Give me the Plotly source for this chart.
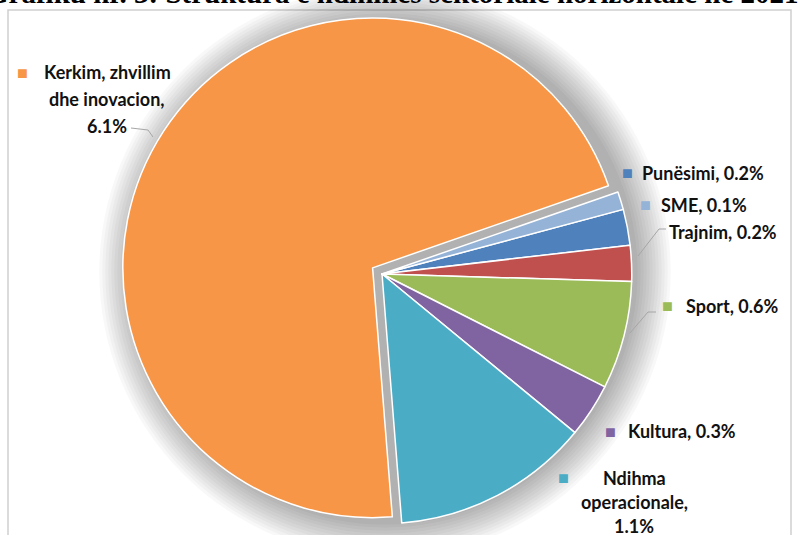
import plotly.graph_objects as go

# ---- data ----
categories = ["Punësimi", "Trajnim", "Sport", "Kultura", "Ndihma operacionale",
              "Kerkim, zhvillim dhe inovacion", "SME"]
values = [0.2, 0.2, 0.6, 0.3, 1.1, 6.1, 0.1]
colors = ["#4F81BD", "#C0504D", "#9BBB59", "#8064A2", "#4BACC6", "#F79646", "#95B3D7"]
title_text = "Grafiku nr. 3: Struktura e ndihmës sektoriale horizontale në 2021"

W, H = 799, 535
cx, cy = 382, 274          # pie centre in pixels
half = 261                 # half domain size in pixels
pull_main = 0.045
pulls = [pull_main if c.startswith("Kerkim") else 0 for c in categories]

def px(x):
    return x / W

def py(y):
    return 1 - y / H

fig = go.Figure()

fig.add_trace(go.Pie(
    labels=categories,
    values=values,
    sort=False,
    direction="clockwise",
    rotation=75,
    pull=pulls,
    marker=dict(colors=colors, line=dict(color="white", width=1.5)),
    textinfo="none",
    hoverinfo="label+value",
    showlegend=False,
    domain=dict(x=[px(cx - half), px(cx + half)], y=[0, py(cy - half)]),
))

shapes = []
# frame
shapes.append(dict(type="rect", xref="paper", yref="paper",
                   x0=px(8), x1=px(791), y0=-0.05, y1=py(10),
                   line=dict(color="#CFCFCF", width=1.5), fillcolor="rgba(0,0,0,0)",
                   layer="below"))
# soft halo behind the pie
r_pie = half / (1 + pull_main)
for k in range(12):
    rr = r_pie + 3 + 3 * k
    shapes.append(dict(type="circle", xref="paper", yref="paper",
                       x0=px(cx - rr + 3), x1=px(cx + rr + 3),
                       y0=py(cy + rr - 2), y1=py(cy - rr - 2),
                       line=dict(width=0), fillcolor="rgba(0,0,0,0.028)",
                       layer="below"))
# leader lines
leaders = [
    [(131, 128), (148, 130), (153, 137)],
    [(666, 229), (659, 229), (638, 256)],
    [(656, 312), (648, 312), (630, 333)],
]
for pts in leaders:
    for (x0, y0), (x1, y1) in zip(pts[:-1], pts[1:]):
        shapes.append(dict(type="line", xref="paper", yref="paper",
                           x0=px(x0), y0=py(y0), x1=px(x1), y1=py(y1),
                           line=dict(color="#A6A6A6", width=1)))

# label layout (positions only)
label_lines = {
    "Kerkim, zhvillim dhe inovacion": ["Kerkim, zhvillim", "dhe inovacion,"],
    "Ndihma operacionale": ["Ndihma", "operacionale,"],
}
label_pos = {
    "Punësimi": dict(marker=(627, 172), text=(640, 173), anchor="left", gap=27),
    "SME": dict(marker=(645, 204), text=(659, 205), anchor="left", gap=27),
    "Trajnim": dict(marker=None, text=(667, 232), anchor="left", gap=27),
    "Sport": dict(marker=(667, 305), text=(684, 306), anchor="left", gap=27),
    "Kultura": dict(marker=(610, 431), text=(626, 431), anchor="left", gap=27),
    "Kerkim, zhvillim dhe inovacion": dict(marker=(22, 72), text=(107, 72), anchor="center", gap=27),
    "Ndihma operacionale": dict(marker=(563, 477), text=(634, 478), anchor="center", gap=24),
}
font = dict(family="Lato", size=18, color="#111111", weight="bold")

annotations = []
for cat, val, col in zip(categories, values, colors):
    pos = label_pos[cat]
    if pos["marker"] is not None:
        mx, my = pos["marker"]
        annotations.append(dict(x=px(mx), y=py(my), xref="paper", yref="paper",
                                text="■", showarrow=False, xanchor="center", yanchor="middle",
                                font=dict(size=18, color=col)))
    tx, ty = pos["text"]
    if cat in label_lines:
        lines = label_lines[cat] + [f"{val}%"]
    else:
        lines = [f"{cat}, {val}%"]
    for i, ln in enumerate(lines):
        annotations.append(dict(x=px(tx), y=py(ty + i * pos["gap"]), xref="paper", yref="paper",
                                text=ln, showarrow=False, xanchor=pos["anchor"], yanchor="middle",
                                font=font))

# cut-off title at top
annotations.append(dict(x=1.0, y=1.0, xref="paper", yref="paper", text=title_text,
                        showarrow=False, xanchor="right", yanchor="bottom", yshift=-11,
                        xshift=2,
                        font=dict(family="Liberation Serif", size=29, color="black", weight="bold")))

fig.update_layout(
    width=W, height=H, autosize=False,
    margin=dict(l=0, r=0, t=0, b=0),
    paper_bgcolor="white", plot_bgcolor="white",
    shapes=shapes, annotations=annotations,
)

fig.write_html("out.html")
